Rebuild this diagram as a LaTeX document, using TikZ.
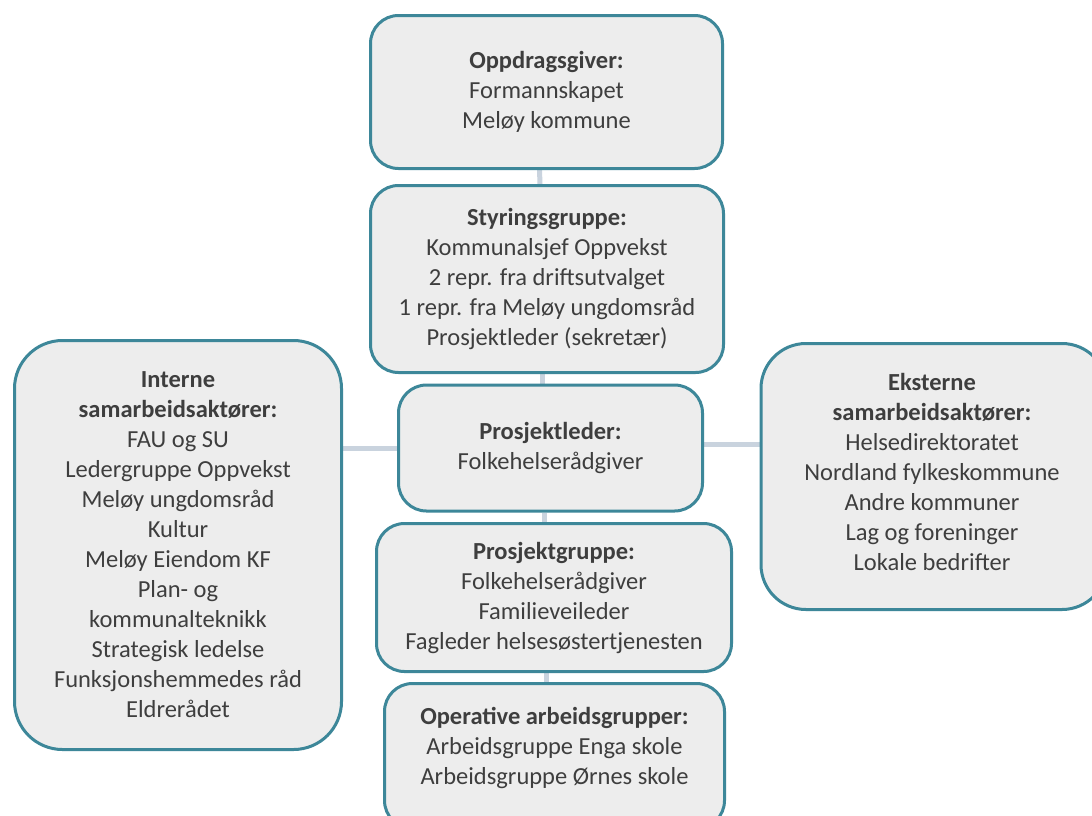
\documentclass[tikz,border=0pt]{standalone}
\usepackage{fontspec}
\setmainfont{Carlito}
\usetikzlibrary{backgrounds}
\definecolor{boxborder}{HTML}{3D8799}
\definecolor{boxfill}{HTML}{EDEDED}
\definecolor{linkcol}{HTML}{C9D3DE}
\definecolor{txt}{HTML}{3E3E3E}
\tikzset{
  box/.style={draw=boxborder, line width=3pt, fill=boxfill, rounded corners=28pt,
    inner sep=0pt, align=center, text=txt, font=\fontsize{24.5}{30}\selectfont},
  bigbox/.style={box, rounded corners=48pt},
  txtnode/.style={inner sep=0pt, align=center, text=txt, font=\fontsize{24.5}{30}\selectfont},
  link/.style={draw=linkcol, line width=5pt}
}
\begin{document}
\begin{tikzpicture}[x=1pt,y=-1pt]
\useasboundingbox (0,0) rectangle (1092,815);
\clip (0,0) rectangle (1092,815);

\node[box, minimum width=352pt, minimum height=153pt] (n1) at (546.5,92)
  {\textbf{Oppdragsgiver:}\\Formannskapet\\Meløy kommune};
\node[box, minimum width=353pt, minimum height=187pt] (n2) at (547,279)
  {\textbf{Styringsgruppe:}\\Kommunalsjef Oppvekst\\2 repr. fra driftsutvalget\\1 repr. fra Meløy ungdomsråd\\Prosjektleder (sekretær)};
\node[box, minimum width=304pt, minimum height=126pt] (n3) at (550.5,448)
  {\textbf{Prosjektleder:}\\Folkehelserådgiver};
\node[box, minimum width=355pt, minimum height=148pt] (n4) at (554,597.5)
  {\textbf{Prosjektgruppe:}\\Folkehelserådgiver\\Familieveileder\\Fagleder helsesøstertjenesten};
\node[box, minimum width=340pt, minimum height=145pt] (n5) at (554.5,756) {};
\node[txtnode] (t5) at (554.5,747.5)
  {\textbf{Operative arbeidsgrupper:}\\Arbeidsgruppe Enga skole\\Arbeidsgruppe Ørnes skole};

\node[bigbox, minimum width=327pt, minimum height=409pt] (int) at (178,545)
  {\textbf{Interne}\\\textbf{samarbeidsaktører:}\\FAU og SU\\Ledergruppe Oppvekst\\Meløy ungdomsråd\\Kultur\\Meløy Eiendom KF\\Plan- og\\kommunalteknikk\\Strategisk ledelse\\Funksjonshemmedes råd\\Eldrerådet};
\node[bigbox, rounded corners=45pt, minimum width=346pt, minimum height=266pt] (ext) at (934,476.5) {};
\node[txtnode] (t7) at (932,472)
  {\textbf{Eksterne}\\\textbf{samarbeidsaktører:}\\Helsedirektoratet\\Nordland fylkeskommune\\Andre kommuner\\Lag og foreninger\\Lokale bedrifter};

\begin{scope}[on background layer]
\fill[white] (0,0) rectangle (1092,815);
\draw[link] ([xshift=-7pt]n1.south) -- ([xshift=-7pt]n2.north);
\draw[link] ([xshift=-5pt]n2.south) -- ([xshift=-8.5pt]n3.north);
\draw[link] ([xshift=-6.5pt]n3.south) -- ([xshift=-10pt]n4.north);
\draw[link] ([xshift=-7.3pt]n4.south) -- ([xshift=-7.8pt]n5.north);
\draw[link] ([yshift=97pt]int.east) -- ([yshift=0pt]n3.west);
\draw[link] ([yshift=4pt]n3.east) -- ([yshift=32.5pt]ext.west);
\end{scope}
\end{tikzpicture}
\end{document}
